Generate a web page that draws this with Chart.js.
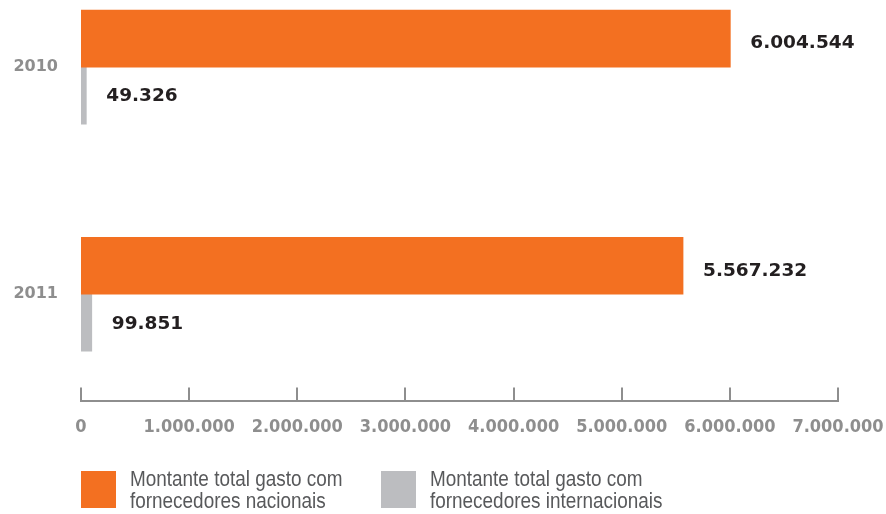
<!DOCTYPE html>
<html>
<head>
<meta charset="utf-8">
<script src="https://cdn.jsdelivr.net/npm/chart.js@4/dist/chart.umd.min.js"></script>
<style>
  html, body { margin: 0; padding: 0; background: #fff; }
  #wrap { width: 886px; height: 514px; position: relative; }
</style>
</head>
<body>
<div id="wrap"><canvas id="chartCanvas"></canvas></div>
<script>
// dados
const anos = ['2010', '2011'];
const nacionais = [6004544, 5567232];
const internacionais = [49326, 99851];
const xTicks = [0, 1000000, 2000000, 3000000, 4000000, 5000000, 6000000, 7000000];
const legendas = [
  ['Montante total gasto com', 'fornecedores nacionais'],
  ['Montante total gasto com', 'fornecedores internacionais']
];

const LARANJA = '#F37021';
const CINZA = '#BCBDC0';
const CINZA_EIXO = '#8E8E8E';

function fmt(n) {
  return String(n).replace(/\B(?=(\d{3})+(?!\d))/g, '.');
}

// rótulos de valor ao lado das barras
const valueLabels = {
  id: 'valueLabels',
  afterDatasetsDraw(chart) {
    const ctx = chart.ctx;
    ctx.save();
    ctx.font = 'bold 18.5px "DejaVu Sans"';
    ctx.fillStyle = '#231F20';
    ctx.textAlign = 'left';
    ctx.textBaseline = 'middle';
    chart.data.datasets.forEach((ds, di) => {
      chart.getDatasetMeta(di).data.forEach((bar, i) => {
        ctx.fillText(fmt(ds.data[i].x), bar.x + 20, bar.y + (di === 0 ? 5 : 1));
      });
    });
    ctx.restore();
  }
};

// marcas do eixo x para cima + legenda
const extras = {
  id: 'extras',
  afterDraw(chart) {
    const ctx = chart.ctx;
    const xs = chart.scales.x;
    const area = chart.chartArea;
    ctx.save();
    ctx.strokeStyle = CINZA_EIXO;
    ctx.lineWidth = 2;
    xs.ticks.forEach(t => {
      const px = Math.round(xs.getPixelForValue(t.value));
      ctx.beginPath();
      ctx.moveTo(px, area.bottom);
      ctx.lineTo(px, area.bottom - 14);
      ctx.stroke();
    });

    // legenda (texto estreito: Liberation Sans comprimida na horizontal)
    const startX = [area.left, area.left + 300];
    ctx.font = '22px "Liberation Sans", sans-serif';
    ctx.textBaseline = 'middle';
    ctx.textAlign = 'left';
    chart.data.datasets.forEach((ds, di) => {
      const x = startX[di];
      ctx.fillStyle = ds.backgroundColor;
      ctx.fillRect(x, 471, 35, 37);
      ctx.fillStyle = '#58595B';
      ds.label.forEach((line, li) => {
        ctx.save();
        ctx.translate(x + 49, 480 + li * 22);
        ctx.scale(0.86, 1);
        ctx.fillText(line, 0, 0);
        ctx.restore();
      });
    });
    ctx.restore();
  }
};

function createChart() {
  const ctx = document.getElementById('chartCanvas').getContext('2d');
  new Chart(ctx, {
    type: 'bar',
    data: {
      datasets: [
        {
          label: legendas[0],
          data: nacionais.map((v, i) => ({ x: v, y: i })),
          backgroundColor: LARANJA
        },
        {
          label: legendas[1],
          data: internacionais.map((v, i) => ({ x: v, y: i })),
          backgroundColor: CINZA
        }
      ]
    },
    options: {
      indexAxis: 'y',
      responsive: true,
      maintainAspectRatio: false,
      animation: false,
      barThickness: 57,
      layout: { padding: { top: 0, right: 48, bottom: 61, left: 0 } },
      plugins: {
        legend: { display: false },
        tooltip: { enabled: false }
      },
      scales: {
        x: {
          type: 'linear',
          min: 0,
          max: 7000000,
          afterBuildTicks: s => { s.ticks = xTicks.map(v => ({ value: v })); },
          afterFit: s => { s.paddingLeft = 0; s.paddingRight = 0; },
          grid: { display: false, drawTicks: false },
          border: { display: true, color: CINZA_EIXO, width: 2 },
          ticks: {
            padding: 15,
            color: CINZA_EIXO,
            font: { family: '"DejaVu Sans Condensed", "DejaVu Sans"', weight: 'bold', size: 18 },
            callback: v => fmt(v),
            maxRotation: 0,
            autoSkip: false
          }
        },
        y: {
          type: 'linear',
          reverse: true,
          offset: false,
          min: -0.2952,
          max: 1.4714,
          afterBuildTicks: s => { s.ticks = anos.map((a, i) => ({ value: i })); },
          afterFit: s => { s.width = 81; s.paddingTop = 0; s.paddingBottom = 0; },
          grid: { display: false, drawTicks: false, offset: false },
          border: { display: false },
          ticks: {
            padding: 23,
            color: CINZA_EIXO,
            font: { family: '"DejaVu Sans"', weight: 'bold', size: 16 },
            callback: v => anos[v]
          }
        }
      }
    },
    plugins: [valueLabels, extras]
  });
}

document.addEventListener('DOMContentLoaded', createChart);
</script>
</body>
</html>
